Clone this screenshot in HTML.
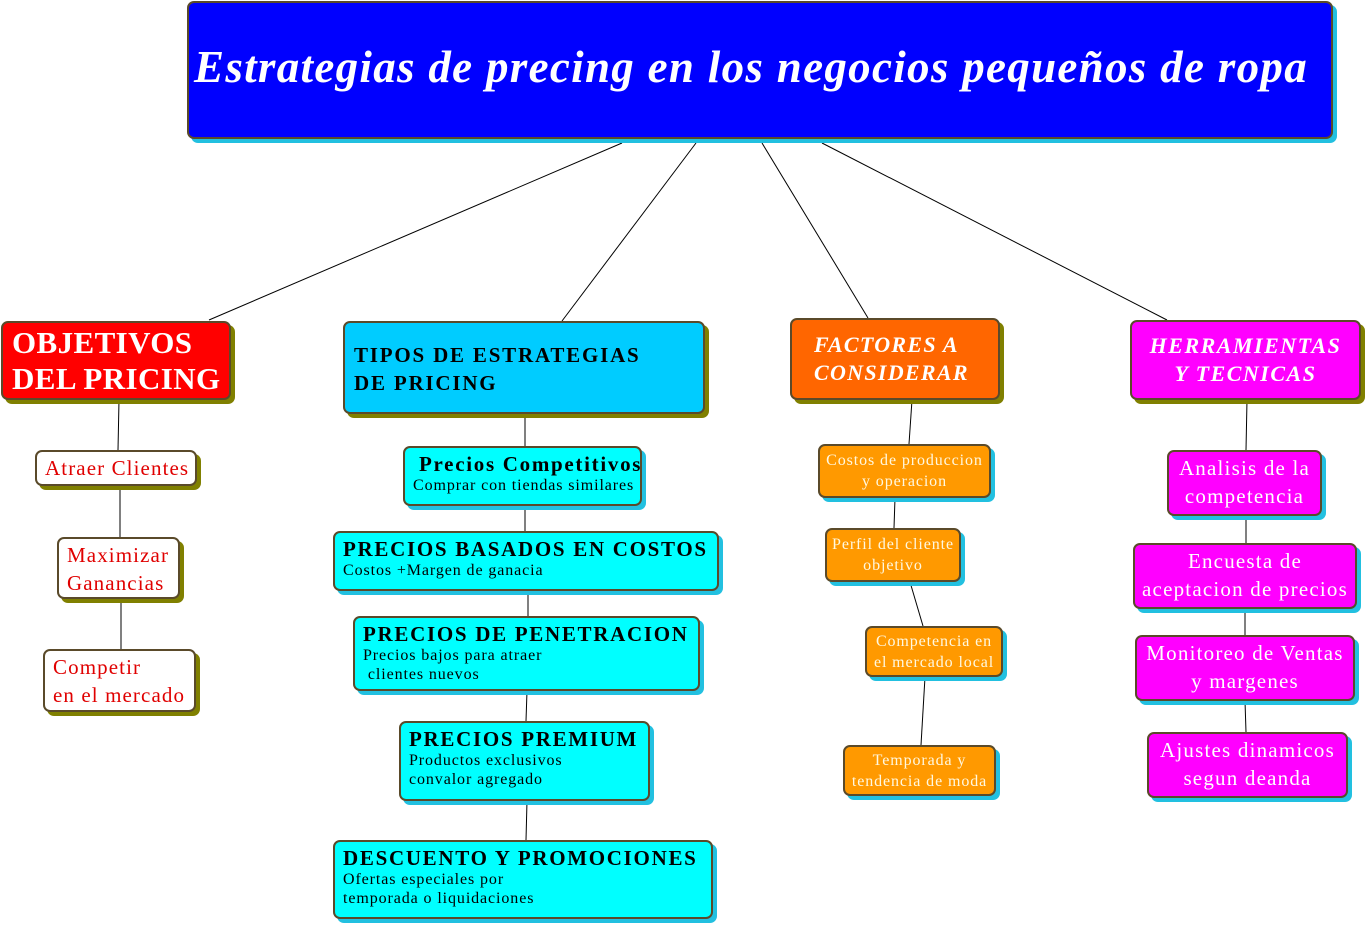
<!DOCTYPE html>
<html><head><meta charset="utf-8"><style>
body{margin:0;width:1367px;height:927px;background:#fff;position:relative;overflow:hidden;font-family:"Liberation Serif",serif}
.n{position:absolute;box-sizing:border-box;border:2px solid #5a4a2a;border-radius:7px;line-height:1.2;white-space:nowrap}
.so{box-shadow:4px 4px 0 #808000}
.sc{box-shadow:4px 4px 0 #22c0e0}
.cy{background:#00ffff;color:#000;padding:4px 0 0 8px;font-size:16px;letter-spacing:0.9px}
.cy b{font-size:21px;display:block;line-height:24px;letter-spacing:1.7px}
.wr{background:#fff;color:#e00000;font-size:21px;padding:2px 0 0 8px;line-height:28px;letter-spacing:1.1px}
.or{background:#ff9900;color:#fff8e0;font-size:16px;text-align:center;line-height:21px;padding-top:4px;letter-spacing:0.9px}
.mg{background:#ff00ff;color:#fff;font-size:21px;text-align:center;line-height:28px;padding-top:2px;letter-spacing:1.2px}
</style></head><body>
<svg width="1367" height="927" style="position:absolute;left:0;top:0" stroke="#000" stroke-width="1">
<line x1="622" y1="143" x2="209" y2="320"/><line x1="696" y1="143" x2="562" y2="321"/>
<line x1="762" y1="143" x2="868" y2="318"/><line x1="822" y1="143" x2="1167" y2="320"/>
<line x1="119" y1="400" x2="118" y2="450"/><line x1="120" y1="486" x2="120" y2="537"/><line x1="121" y1="599" x2="121" y2="649"/>
<line x1="525" y1="414" x2="525" y2="446"/><line x1="525" y1="506" x2="525" y2="531"/><line x1="528" y1="591" x2="528" y2="616"/>
<line x1="527" y1="691" x2="526" y2="721"/><line x1="527" y1="801" x2="526" y2="840"/>
<line x1="912" y1="400" x2="909" y2="444"/><line x1="895" y1="498" x2="894" y2="528"/><line x1="910" y1="582" x2="923" y2="626"/><line x1="925" y1="677" x2="921" y2="745"/>
<line x1="1247" y1="400" x2="1246" y2="450"/><line x1="1246" y1="516" x2="1246" y2="543"/><line x1="1245" y1="609" x2="1245" y2="635"/><line x1="1245" y1="701" x2="1246" y2="732"/>
</svg>
<div class="n sc" style="left:187px;top:1px;width:1146px;height:138px;background:#0000ff;color:#fff;font-style:italic;font-weight:bold;font-size:45px;letter-spacing:1.3px;padding:37px 0 0 5px">Estrategias de precing en los negocios pequeños de ropa</div>

<div class="n so" style="left:1px;top:321px;width:230px;height:79px;background:#ff0000;color:#fff;font-weight:bold;font-size:31px;line-height:36px;padding:2px 0 0 9px;letter-spacing:0.4px">OBJETIVOS<br>DEL PRICING</div>
<div class="n so wr" style="left:35px;top:450px;width:162px;height:36px">Atraer Clientes</div>
<div class="n so wr" style="left:57px;top:537px;width:123px;height:62px">Maximizar<br>Ganancias</div>
<div class="n so wr" style="left:43px;top:649px;width:153px;height:63px">Competir<br>en el mercado</div>

<div class="n so" style="left:343px;top:321px;width:362px;height:93px;background:#00ccff;color:#000;font-weight:bold;font-size:21px;line-height:28px;padding:18px 0 0 9px;letter-spacing:1.8px">TIPOS DE ESTRATEGIAS<br>DE PRICING</div>
<div class="n sc cy" style="left:403px;top:446px;width:239px;height:60px;padding-left:8px"><b style="padding-left:6px">Precios Competitivos</b>Comprar con tiendas similares</div>
<div class="n sc cy" style="left:333px;top:531px;width:386px;height:60px"><b>PRECIOS BASADOS EN COSTOS</b>Costos +Margen de ganacia</div>
<div class="n sc cy" style="left:353px;top:616px;width:347px;height:75px"><b>PRECIOS DE PENETRACION</b>Precios bajos para atraer<br>&nbsp;clientes nuevos</div>
<div class="n sc cy" style="left:399px;top:721px;width:251px;height:80px"><b>PRECIOS PREMIUM</b>Productos exclusivos<br>convalor agregado</div>
<div class="n sc cy" style="left:333px;top:840px;width:380px;height:79px"><b>DESCUENTO Y PROMOCIONES</b>Ofertas especiales por<br>temporada o liquidaciones</div>

<div class="n so" style="left:790px;top:318px;width:210px;height:82px;background:#ff6600;color:#fff;font-weight:bold;font-style:italic;font-size:22px;line-height:28px;padding:11px 0 0 22px;letter-spacing:1.3px">FACTORES A<br>CONSIDERAR</div>
<div class="n sc or" style="left:818px;top:444px;width:173px;height:54px">Costos de produccion<br>y operacion</div>
<div class="n sc or" style="left:825px;top:528px;width:136px;height:54px">Perfil del cliente<br>objetivo</div>
<div class="n sc or" style="left:865px;top:626px;width:138px;height:51px;padding-top:3px">Competencia en<br>el mercado local</div>
<div class="n sc or" style="left:843px;top:745px;width:153px;height:51px;padding-top:3px">Temporada y<br>tendencia de moda</div>

<div class="n so" style="left:1130px;top:320px;width:231px;height:80px;background:#ff00ff;color:#fff;font-weight:bold;font-style:italic;font-size:22px;line-height:28px;padding-top:10px;text-align:center;letter-spacing:1.5px">HERRAMIENTAS<br>Y TECNICAS</div>
<div class="n sc mg" style="left:1167px;top:450px;width:155px;height:66px">Analisis de la<br>competencia</div>
<div class="n sc mg" style="left:1133px;top:543px;width:224px;height:66px">Encuesta de<br>aceptacion de precios</div>
<div class="n sc mg" style="left:1135px;top:635px;width:220px;height:66px">Monitoreo de Ventas<br>y margenes</div>
<div class="n sc mg" style="left:1147px;top:732px;width:201px;height:66px">Ajustes dinamicos<br>segun deanda</div>
</body></html>
